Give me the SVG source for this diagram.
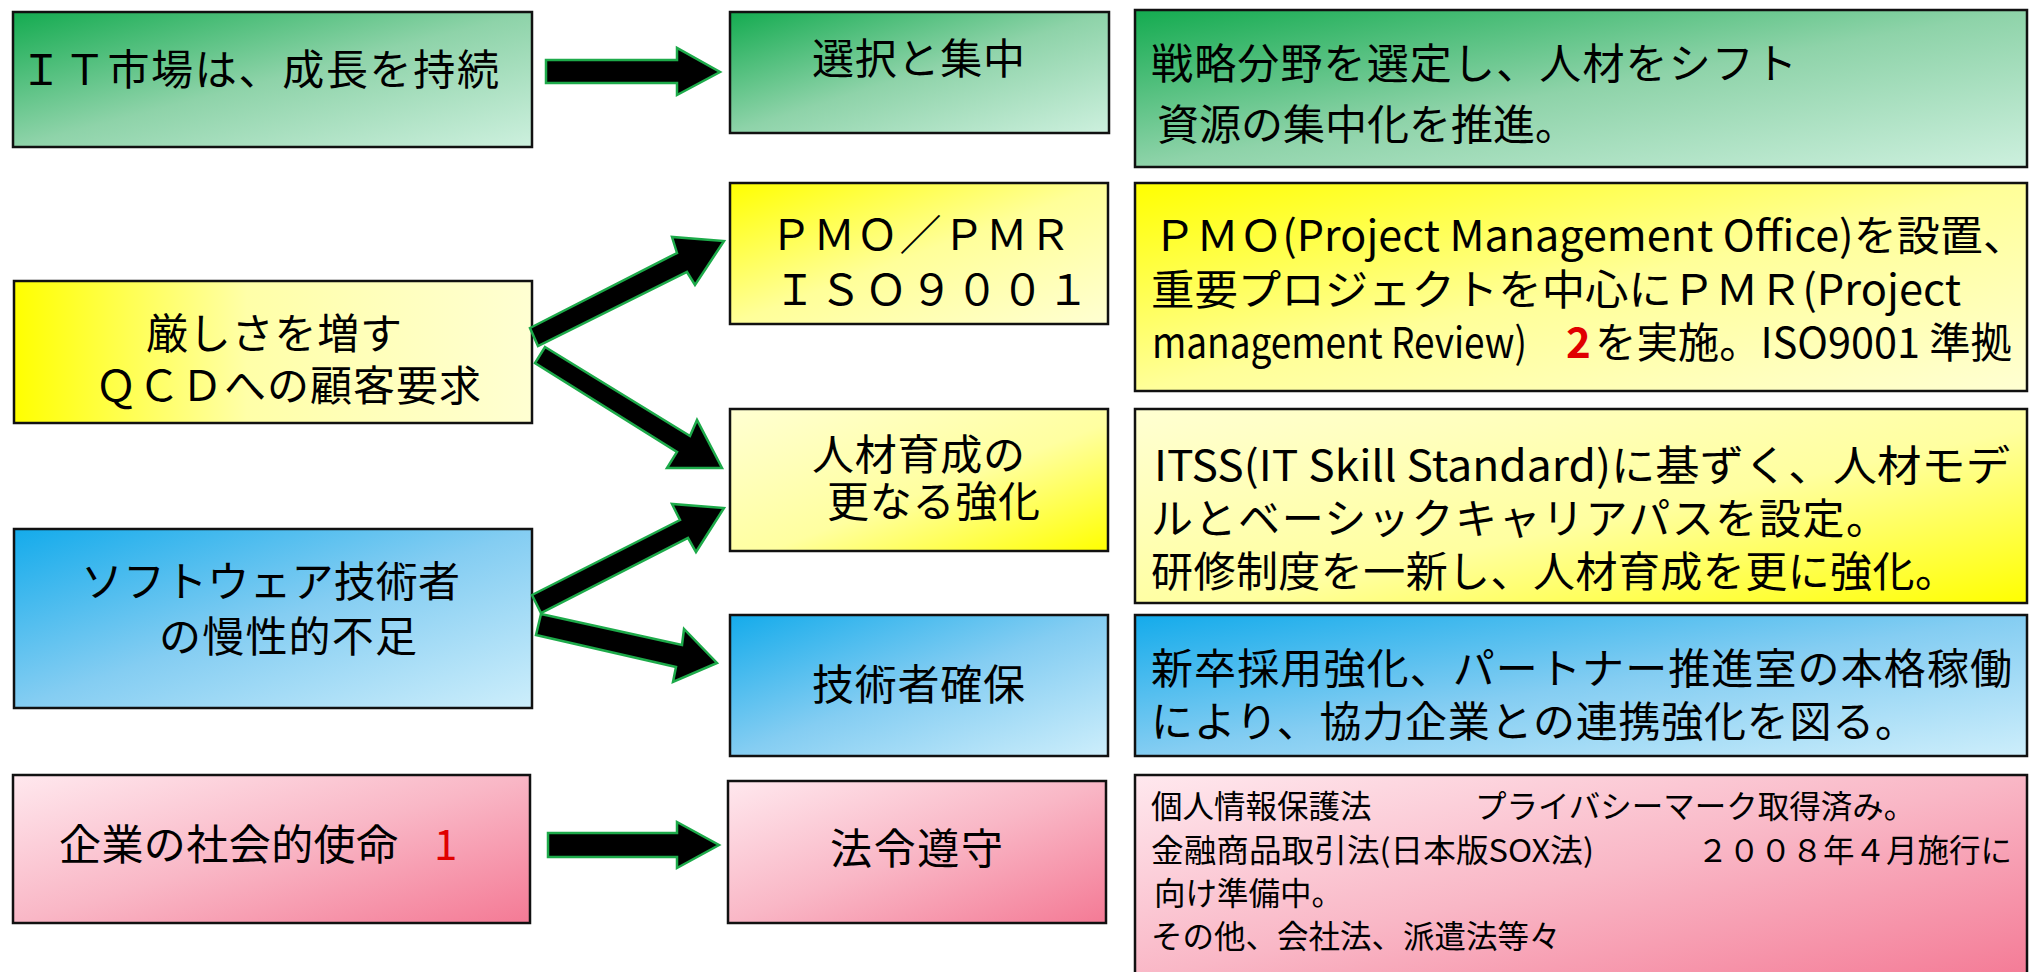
<svg xmlns="http://www.w3.org/2000/svg" width="2029" height="972" viewBox="0 0 2029 972">
<defs>
<linearGradient id="gGreen" x1="0" y1="0" x2="1" y2="1"><stop offset="0" stop-color="#14AB50"/><stop offset="0.5" stop-color="#8ED3A9"/><stop offset="1" stop-color="#CDF0DE"/></linearGradient>
<linearGradient id="gYelTL" x1="0" y1="0" x2="1" y2="1"><stop offset="0" stop-color="#FFFF00"/><stop offset="0.5" stop-color="#FFFF99"/><stop offset="1" stop-color="#FFFFD2"/></linearGradient>
<linearGradient id="gYelL" x1="0" y1="0" x2="1" y2="0"><stop offset="0" stop-color="#FFFF00"/><stop offset="0.45" stop-color="#FFFFA8"/><stop offset="1" stop-color="#FFFFD2"/></linearGradient>
<linearGradient id="gYelBR" x1="0" y1="0" x2="1" y2="1"><stop offset="0" stop-color="#FFFFD2"/><stop offset="0.55" stop-color="#FFFFA0"/><stop offset="1" stop-color="#FFFF00"/></linearGradient>
<linearGradient id="gBlue" x1="0" y1="0" x2="1" y2="1"><stop offset="0" stop-color="#14ABEB"/><stop offset="0.5" stop-color="#84CDF2"/><stop offset="1" stop-color="#CDEEFB"/></linearGradient>
<linearGradient id="gPink" x1="0" y1="0" x2="1" y2="1"><stop offset="0" stop-color="#FFE8EE"/><stop offset="0.5" stop-color="#F9B7C6"/><stop offset="1" stop-color="#F47A95"/></linearGradient>
</defs>
<style>
.box{stroke:#111;stroke-width:2.5}
.t{font-family:"Noto Sans CJK JP","Noto Sans",sans-serif;font-size:42px;fill:#000}
.s{font-family:"Noto Sans CJK JP","Noto Sans",sans-serif;font-size:31.5px;fill:#000}
.r{fill:#E00000}
.arrow{fill:#000;stroke:#1DAA4A;stroke-width:2.5;stroke-linejoin:miter}
</style>

<g id="n-it-market">
<rect class="box" x="13" y="12" width="519" height="135" fill="url(#gGreen)"/>
<text class="t" x="20" y="85" textLength="479">ＩＴ市場は、成長を持続</text>
</g>
<g id="n-select">
<rect class="box" x="730" y="12" width="379" height="121" fill="url(#gGreen)"/>
<text class="t" x="812" y="74" textLength="213">選択と集中</text>
</g>
<g id="n-select-desc">
<rect class="box" x="1135" y="10" width="892" height="157" fill="url(#gGreen)"/>
<text class="t" x="1151" y="79" textLength="646">戦略分野を選定し、人材をシフト</text>
<text class="t" x="1157" y="140">資源の集中化を推進。</text>
</g>

<g id="n-qcd">
<rect class="box" x="14" y="281" width="518" height="142" fill="url(#gYelL)"/>
<text class="t" x="146" y="349" textLength="256">厳しさを増す</text>
<text class="t" x="95" y="401" textLength="386">ＱＣＤへの顧客要求</text>
</g>
<g id="n-pmo">
<rect class="box" x="730" y="183" width="378" height="141" fill="url(#gYelTL)"/>
<text class="t" x="770" y="250" textLength="301">ＰＭＯ／ＰＭＲ</text>
<text class="t" x="774" y="305" textLength="315">ＩＳＯ９００１</text>
</g>
<g id="n-pmo-desc">
<rect class="box" x="1135" y="183" width="892" height="208" fill="url(#gYelTL)"/>
<text class="t" x="1153" y="251" font-size="40" textLength="873" lengthAdjust="spacingAndGlyphs">ＰＭＯ(Project Management Office)を設置、</text>
<text class="t" x="1151" y="305" font-size="40" textLength="810" lengthAdjust="spacingAndGlyphs">重要プロジェクトを中心にＰＭＲ(Project</text>
<text class="t" x="1152" y="358" font-size="40" textLength="375" lengthAdjust="spacingAndGlyphs">management Review)</text>
<text class="t r" x="1566" y="358" font-size="40" font-weight="bold">2</text>
<text class="t" x="1595" y="358" font-size="40" textLength="417" lengthAdjust="spacingAndGlyphs">を実施。ISO9001 準拠</text>
</g>

<g id="n-hr">
<rect class="box" x="730" y="409" width="378" height="142" fill="url(#gYelBR)"/>
<text class="t" x="812" y="470" textLength="213">人材育成の</text>
<text class="t" x="827" y="517" textLength="213">更なる強化</text>
</g>
<g id="n-hr-desc">
<rect class="box" x="1135" y="409" width="892" height="194" fill="url(#gYelBR)"/>
<text class="t" x="1154" y="481" textLength="856" lengthAdjust="spacingAndGlyphs">ITSS(IT Skill Standard)に基ずく、人材モデ</text>
<text class="t" x="1151" y="534" textLength="737">ルとベーシックキャリアパスを設定。</text>
<text class="t" x="1151" y="587" textLength="806">研修制度を一新し、人材育成を更に強化。</text>
</g>

<g id="n-shortage">
<rect class="box" x="14" y="529" width="518" height="179" fill="url(#gBlue)"/>
<text class="t" x="81" y="597" textLength="379">ソフトウェア技術者</text>
<text class="t" x="159" y="652" textLength="258">の慢性的不足</text>
</g>
<g id="n-secure">
<rect class="box" x="730" y="615" width="378" height="141" fill="url(#gBlue)"/>
<text class="t" x="812" y="700" textLength="213">技術者確保</text>
</g>
<g id="n-secure-desc">
<rect class="box" x="1135" y="615" width="892" height="141" fill="url(#gBlue)"/>
<text class="t" x="1151" y="684" textLength="861">新卒採用強化、パートナー推進室の本格稼働</text>
<text class="t" x="1151" y="737" textLength="766">により、協力企業との連携強化を図る。</text>
</g>

<g id="n-mission">
<rect class="box" x="13" y="775" width="517" height="148" fill="url(#gPink)"/>
<text class="t" x="59" y="860" textLength="339">企業の社会的使命</text>
<text class="t r" x="434" y="860" font-size="38">1</text>
</g>
<g id="n-compliance">
<rect class="box" x="728" y="781" width="378" height="142" fill="url(#gPink)"/>
<text class="t" x="830" y="864" textLength="173">法令遵守</text>
</g>
<g id="n-compliance-desc">
<rect class="box" x="1135" y="775" width="892" height="205" fill="url(#gPink)"/>
<text class="s" x="1151" y="818">個人情報保護法<tspan x="1475">プライバシーマーク取得済み。</tspan></text>
<text class="s" x="1151" y="862"><tspan textLength="443" lengthAdjust="spacingAndGlyphs">金融商品取引法(日本版SOX法)</tspan><tspan x="1697">２００８年４月施行に</tspan></text>
<text class="s" x="1154" y="905">向け準備中。</text>
<text class="s" x="1151" y="948">その他、会社法、派遣法等々</text>
</g>

<g id="connectors">
<polygon class="arrow" points="546,60 677,60 677,48 720,72 677,95 677,83 546,83"/>
<polygon class="arrow" points="530,328 677,253 672,237 724,241 695,285 687,272 538,346"/>
<polygon class="arrow" points="545,347 690,436 697,420 722,468 667,468 677,452 535,363"/>
<polygon class="arrow" points="532,595 680,520 672,504 724,508 696,552 688,538 541,613"/>
<polygon class="arrow" points="541,614 682,645 684,629 717,663 673,682 676,667 536,635"/>
<polygon class="arrow" points="548,833 677,833 677,822 719,845 677,868 677,857 548,857"/>
</g>
</svg>
